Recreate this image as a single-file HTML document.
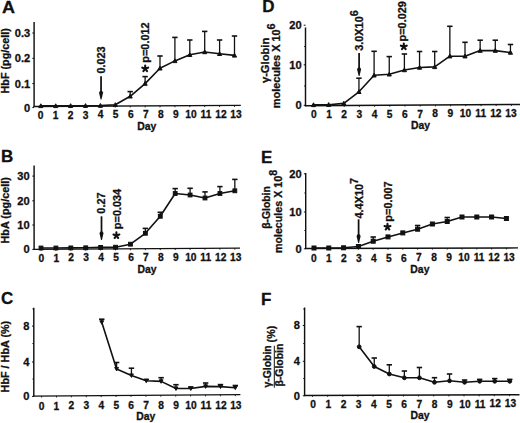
<!DOCTYPE html>
<html><head><meta charset="utf-8"><style>html,body{margin:0;padding:0;background:#fff;}svg{display:block;}text{font-family:"Liberation Sans", sans-serif;}</style></head><body>
<svg width="520" height="423" viewBox="0 0 520 423" font-family='"Liberation Sans", sans-serif' fill="#111" stroke="#111">
<rect width="520" height="423" fill="#fff" stroke="none"/>
<g stroke="none">
</g>
<g>
<line x1="34.10" y1="22.00" x2="34.10" y2="107.00" stroke-width="1.45"/>
<line x1="33.50" y1="106.50" x2="240.80" y2="105.40" stroke-width="1.45"/>
<line x1="32.30" y1="33.00" x2="34.10" y2="33.00" stroke-width="1.0"/>
<line x1="32.30" y1="58.30" x2="34.10" y2="58.30" stroke-width="1.0"/>
<line x1="32.30" y1="83.60" x2="34.10" y2="83.60" stroke-width="1.0"/>
<line x1="32.30" y1="107.60" x2="34.10" y2="107.60" stroke-width="1.0"/>
<line x1="40.80" y1="106.46" x2="40.80" y2="107.96" stroke-width="0.9"/>
<line x1="55.70" y1="106.39" x2="55.70" y2="107.89" stroke-width="0.9"/>
<line x1="70.60" y1="106.31" x2="70.60" y2="107.81" stroke-width="0.9"/>
<line x1="85.50" y1="106.23" x2="85.50" y2="107.73" stroke-width="0.9"/>
<line x1="100.40" y1="106.15" x2="100.40" y2="107.65" stroke-width="0.9"/>
<line x1="115.30" y1="106.07" x2="115.30" y2="107.57" stroke-width="0.9"/>
<line x1="130.20" y1="105.99" x2="130.20" y2="107.49" stroke-width="0.9"/>
<line x1="145.10" y1="105.91" x2="145.10" y2="107.41" stroke-width="0.9"/>
<line x1="160.00" y1="105.83" x2="160.00" y2="107.33" stroke-width="0.9"/>
<line x1="174.90" y1="105.75" x2="174.90" y2="107.25" stroke-width="0.9"/>
<line x1="189.80" y1="105.67" x2="189.80" y2="107.17" stroke-width="0.9"/>
<line x1="204.70" y1="105.59" x2="204.70" y2="107.09" stroke-width="0.9"/>
<line x1="219.60" y1="105.51" x2="219.60" y2="107.01" stroke-width="0.9"/>
<line x1="234.50" y1="105.43" x2="234.50" y2="106.93" stroke-width="0.9"/>
<text transform="translate(30.20 36.93)" font-size="11.1" text-anchor="end" font-weight="bold" stroke="#111" stroke-width="0.3">0.3</text>
<text transform="translate(30.20 62.23)" font-size="11.1" text-anchor="end" font-weight="bold" stroke="#111" stroke-width="0.3">0.2</text>
<text transform="translate(30.20 87.53)" font-size="11.1" text-anchor="end" font-weight="bold" stroke="#111" stroke-width="0.3">0.1</text>
<text transform="translate(30.20 111.53)" font-size="11.1" text-anchor="end" font-weight="bold" stroke="#111" stroke-width="0.3">0</text>
<text transform="translate(40.50 118.81)" font-size="10.2" text-anchor="middle" font-weight="bold" stroke="#111" stroke-width="0.3">0</text>
<text transform="translate(55.54 118.71)" font-size="10.2" text-anchor="middle" font-weight="bold" stroke="#111" stroke-width="0.3">1</text>
<text transform="translate(70.58 118.61)" font-size="10.2" text-anchor="middle" font-weight="bold" stroke="#111" stroke-width="0.3">2</text>
<text transform="translate(85.62 118.51)" font-size="10.2" text-anchor="middle" font-weight="bold" stroke="#111" stroke-width="0.3">3</text>
<text transform="translate(100.66 118.41)" font-size="10.2" text-anchor="middle" font-weight="bold" stroke="#111" stroke-width="0.3">4</text>
<text transform="translate(115.70 118.31)" font-size="10.2" text-anchor="middle" font-weight="bold" stroke="#111" stroke-width="0.3">5</text>
<text transform="translate(130.74 118.21)" font-size="10.2" text-anchor="middle" font-weight="bold" stroke="#111" stroke-width="0.3">6</text>
<text transform="translate(145.78 118.11)" font-size="10.2" text-anchor="middle" font-weight="bold" stroke="#111" stroke-width="0.3">7</text>
<text transform="translate(160.82 118.01)" font-size="10.2" text-anchor="middle" font-weight="bold" stroke="#111" stroke-width="0.3">8</text>
<text transform="translate(175.86 117.91)" font-size="10.2" text-anchor="middle" font-weight="bold" stroke="#111" stroke-width="0.3">9</text>
<text transform="translate(190.90 117.81)" font-size="10.2" text-anchor="middle" font-weight="bold" stroke="#111" stroke-width="0.3">10</text>
<text transform="translate(205.94 117.71)" font-size="10.2" text-anchor="middle" font-weight="bold" stroke="#111" stroke-width="0.3">11</text>
<text transform="translate(220.98 117.61)" font-size="10.2" text-anchor="middle" font-weight="bold" stroke="#111" stroke-width="0.3">12</text>
<text transform="translate(236.02 117.51)" font-size="10.2" text-anchor="middle" font-weight="bold" stroke="#111" stroke-width="0.3">13</text>
<text transform="translate(146.80 129.60)" font-size="10.4" text-anchor="middle" font-weight="bold" stroke="#111" stroke-width="0.3">Day</text>
<text transform="translate(2.00 12.70) scale(1.06 1.0)" font-size="17" text-anchor="start" font-weight="bold" stroke="#111" stroke-width="0.3">A</text>
<line x1="130.20" y1="96.30" x2="130.20" y2="91.60" stroke-width="1.3"/>
<line x1="127.50" y1="91.60" x2="132.90" y2="91.60" stroke-width="1.6"/>
<line x1="145.10" y1="83.60" x2="145.10" y2="76.60" stroke-width="1.3"/>
<line x1="142.40" y1="76.60" x2="147.80" y2="76.60" stroke-width="1.6"/>
<line x1="160.00" y1="68.30" x2="160.00" y2="56.00" stroke-width="1.3"/>
<line x1="157.30" y1="56.00" x2="162.70" y2="56.00" stroke-width="1.6"/>
<line x1="174.90" y1="60.90" x2="174.90" y2="37.40" stroke-width="1.3"/>
<line x1="172.20" y1="37.40" x2="177.60" y2="37.40" stroke-width="1.6"/>
<line x1="189.80" y1="54.80" x2="189.80" y2="40.00" stroke-width="1.3"/>
<line x1="187.10" y1="40.00" x2="192.50" y2="40.00" stroke-width="1.6"/>
<line x1="204.70" y1="52.00" x2="204.70" y2="31.40" stroke-width="1.3"/>
<line x1="202.00" y1="31.40" x2="207.40" y2="31.40" stroke-width="1.6"/>
<line x1="219.60" y1="53.80" x2="219.60" y2="40.00" stroke-width="1.3"/>
<line x1="216.90" y1="40.00" x2="222.30" y2="40.00" stroke-width="1.6"/>
<line x1="234.50" y1="55.40" x2="234.50" y2="36.00" stroke-width="1.3"/>
<line x1="231.80" y1="36.00" x2="237.20" y2="36.00" stroke-width="1.6"/>
<path d="M40.80 105.90 L55.70 105.90 L70.60 105.80 L85.50 105.70 L100.40 105.60 L115.30 104.80 L130.20 96.30 L145.10 83.60 L160.00 68.30 L174.90 60.90 L189.80 54.80 L204.70 52.00 L219.60 53.80 L234.50 55.40" fill="none" stroke-width="1.6" stroke-linejoin="round"/>
<path d="M38.71 107.61L42.89 107.61L40.80 103.81Z"/>
<path d="M53.61 107.61L57.79 107.61L55.70 103.81Z"/>
<path d="M68.51 107.51L72.69 107.51L70.60 103.71Z"/>
<path d="M83.41 107.41L87.59 107.41L85.50 103.61Z"/>
<path d="M98.31 107.31L102.49 107.31L100.40 103.51Z"/>
<path d="M113.21 106.51L117.39 106.51L115.30 102.71Z"/>
<path d="M128.11 98.01L132.29 98.01L130.20 94.21Z"/>
<path d="M143.01 85.31L147.19 85.31L145.10 81.51Z"/>
<path d="M157.91 70.01L162.09 70.01L160.00 66.21Z"/>
<path d="M172.81 62.61L176.99 62.61L174.90 58.81Z"/>
<path d="M187.71 56.51L191.89 56.51L189.80 52.71Z"/>
<path d="M202.61 53.71L206.79 53.71L204.70 49.91Z"/>
<path d="M217.51 55.51L221.69 55.51L219.60 51.71Z"/>
<path d="M232.41 57.11L236.59 57.11L234.50 53.31Z"/>
</g>
<g>
<line x1="34.10" y1="165.40" x2="34.10" y2="249.90" stroke-width="1.45"/>
<line x1="33.50" y1="249.40" x2="240.00" y2="248.10" stroke-width="1.45"/>
<line x1="32.30" y1="176.10" x2="34.10" y2="176.10" stroke-width="1.0"/>
<line x1="32.30" y1="200.80" x2="34.10" y2="200.80" stroke-width="1.0"/>
<line x1="32.30" y1="225.00" x2="34.10" y2="225.00" stroke-width="1.0"/>
<line x1="32.30" y1="249.40" x2="34.10" y2="249.40" stroke-width="1.0"/>
<line x1="41.00" y1="249.36" x2="41.00" y2="250.86" stroke-width="0.9"/>
<line x1="55.91" y1="249.26" x2="55.91" y2="250.76" stroke-width="0.9"/>
<line x1="70.82" y1="249.17" x2="70.82" y2="250.67" stroke-width="0.9"/>
<line x1="85.73" y1="249.07" x2="85.73" y2="250.57" stroke-width="0.9"/>
<line x1="100.64" y1="248.98" x2="100.64" y2="250.48" stroke-width="0.9"/>
<line x1="115.55" y1="248.89" x2="115.55" y2="250.39" stroke-width="0.9"/>
<line x1="130.46" y1="248.79" x2="130.46" y2="250.29" stroke-width="0.9"/>
<line x1="145.37" y1="248.70" x2="145.37" y2="250.20" stroke-width="0.9"/>
<line x1="160.28" y1="248.60" x2="160.28" y2="250.10" stroke-width="0.9"/>
<line x1="175.19" y1="248.51" x2="175.19" y2="250.01" stroke-width="0.9"/>
<line x1="190.10" y1="248.42" x2="190.10" y2="249.92" stroke-width="0.9"/>
<line x1="205.01" y1="248.32" x2="205.01" y2="249.82" stroke-width="0.9"/>
<line x1="219.92" y1="248.23" x2="219.92" y2="249.73" stroke-width="0.9"/>
<line x1="234.83" y1="248.13" x2="234.83" y2="249.63" stroke-width="0.9"/>
<text transform="translate(29.70 180.03)" font-size="11.1" text-anchor="end" font-weight="bold" stroke="#111" stroke-width="0.3">30</text>
<text transform="translate(29.70 204.73)" font-size="11.1" text-anchor="end" font-weight="bold" stroke="#111" stroke-width="0.3">20</text>
<text transform="translate(29.70 228.93)" font-size="11.1" text-anchor="end" font-weight="bold" stroke="#111" stroke-width="0.3">10</text>
<text transform="translate(29.70 253.33)" font-size="11.1" text-anchor="end" font-weight="bold" stroke="#111" stroke-width="0.3">0</text>
<text transform="translate(41.30 261.61)" font-size="10.2" text-anchor="middle" font-weight="bold" stroke="#111" stroke-width="0.3">0</text>
<text transform="translate(56.25 261.53)" font-size="10.2" text-anchor="middle" font-weight="bold" stroke="#111" stroke-width="0.3">1</text>
<text transform="translate(71.20 261.46)" font-size="10.2" text-anchor="middle" font-weight="bold" stroke="#111" stroke-width="0.3">2</text>
<text transform="translate(86.15 261.38)" font-size="10.2" text-anchor="middle" font-weight="bold" stroke="#111" stroke-width="0.3">3</text>
<text transform="translate(101.10 261.30)" font-size="10.2" text-anchor="middle" font-weight="bold" stroke="#111" stroke-width="0.3">4</text>
<text transform="translate(116.05 261.23)" font-size="10.2" text-anchor="middle" font-weight="bold" stroke="#111" stroke-width="0.3">5</text>
<text transform="translate(131.00 261.15)" font-size="10.2" text-anchor="middle" font-weight="bold" stroke="#111" stroke-width="0.3">6</text>
<text transform="translate(145.95 261.07)" font-size="10.2" text-anchor="middle" font-weight="bold" stroke="#111" stroke-width="0.3">7</text>
<text transform="translate(160.90 261.00)" font-size="10.2" text-anchor="middle" font-weight="bold" stroke="#111" stroke-width="0.3">8</text>
<text transform="translate(175.85 260.92)" font-size="10.2" text-anchor="middle" font-weight="bold" stroke="#111" stroke-width="0.3">9</text>
<text transform="translate(190.80 260.84)" font-size="10.2" text-anchor="middle" font-weight="bold" stroke="#111" stroke-width="0.3">10</text>
<text transform="translate(205.75 260.76)" font-size="10.2" text-anchor="middle" font-weight="bold" stroke="#111" stroke-width="0.3">11</text>
<text transform="translate(220.70 260.69)" font-size="10.2" text-anchor="middle" font-weight="bold" stroke="#111" stroke-width="0.3">12</text>
<text transform="translate(235.65 260.61)" font-size="10.2" text-anchor="middle" font-weight="bold" stroke="#111" stroke-width="0.3">13</text>
<text transform="translate(147.00 272.50)" font-size="10.4" text-anchor="middle" font-weight="bold" stroke="#111" stroke-width="0.3">Day</text>
<text transform="translate(1.00 161.50)" font-size="17" text-anchor="start" font-weight="bold" stroke="#111" stroke-width="0.3">B</text>
<line x1="145.37" y1="233.30" x2="145.37" y2="228.40" stroke-width="1.3"/>
<line x1="142.67" y1="228.40" x2="148.07" y2="228.40" stroke-width="1.6"/>
<line x1="160.28" y1="216.30" x2="160.28" y2="212.30" stroke-width="1.3"/>
<line x1="157.58" y1="212.30" x2="162.98" y2="212.30" stroke-width="1.6"/>
<line x1="175.19" y1="193.50" x2="175.19" y2="188.60" stroke-width="1.3"/>
<line x1="172.49" y1="188.60" x2="177.89" y2="188.60" stroke-width="1.6"/>
<line x1="190.10" y1="195.00" x2="190.10" y2="188.30" stroke-width="1.3"/>
<line x1="187.40" y1="188.30" x2="192.80" y2="188.30" stroke-width="1.6"/>
<line x1="205.01" y1="198.00" x2="205.01" y2="191.90" stroke-width="1.3"/>
<line x1="202.31" y1="191.90" x2="207.71" y2="191.90" stroke-width="1.6"/>
<line x1="219.92" y1="193.50" x2="219.92" y2="186.60" stroke-width="1.3"/>
<line x1="217.22" y1="186.60" x2="222.62" y2="186.60" stroke-width="1.6"/>
<line x1="234.83" y1="190.80" x2="234.83" y2="179.40" stroke-width="1.3"/>
<line x1="232.13" y1="179.40" x2="237.53" y2="179.40" stroke-width="1.6"/>
<path d="M41.00 248.00 L55.91 248.00 L70.82 247.90 L85.73 247.80 L100.64 247.40 L115.55 247.20 L130.46 244.20 L145.37 233.30 L160.28 216.30 L175.19 193.50 L190.10 195.00 L205.01 198.00 L219.92 193.50 L234.83 190.80" fill="none" stroke-width="1.6" stroke-linejoin="round"/>
<rect x="39.10" y="246.10" width="3.80" height="3.80"/>
<rect x="54.01" y="246.10" width="3.80" height="3.80"/>
<rect x="68.92" y="246.00" width="3.80" height="3.80"/>
<rect x="83.83" y="245.90" width="3.80" height="3.80"/>
<rect x="98.74" y="245.50" width="3.80" height="3.80"/>
<rect x="113.65" y="245.30" width="3.80" height="3.80"/>
<rect x="128.56" y="242.30" width="3.80" height="3.80"/>
<rect x="143.47" y="231.40" width="3.80" height="3.80"/>
<rect x="158.38" y="214.40" width="3.80" height="3.80"/>
<rect x="173.29" y="191.60" width="3.80" height="3.80"/>
<rect x="188.20" y="193.10" width="3.80" height="3.80"/>
<rect x="203.11" y="196.10" width="3.80" height="3.80"/>
<rect x="218.02" y="191.60" width="3.80" height="3.80"/>
<rect x="232.93" y="188.90" width="3.80" height="3.80"/>
</g>
<g>
<line x1="33.80" y1="307.70" x2="33.80" y2="396.60" stroke-width="1.45"/>
<line x1="33.20" y1="396.10" x2="240.40" y2="394.60" stroke-width="1.45"/>
<line x1="32.00" y1="326.10" x2="33.80" y2="326.10" stroke-width="1.0"/>
<line x1="32.00" y1="362.00" x2="33.80" y2="362.00" stroke-width="1.0"/>
<line x1="32.00" y1="396.40" x2="33.80" y2="396.40" stroke-width="1.0"/>
<line x1="32.40" y1="343.50" x2="33.80" y2="343.50" stroke-width="0.9"/>
<line x1="32.40" y1="379.00" x2="33.80" y2="379.00" stroke-width="0.9"/>
<line x1="32.40" y1="309.00" x2="33.80" y2="309.00" stroke-width="0.9"/>
<line x1="41.60" y1="396.04" x2="41.60" y2="397.54" stroke-width="0.9"/>
<line x1="56.50" y1="395.94" x2="56.50" y2="397.44" stroke-width="0.9"/>
<line x1="71.40" y1="395.83" x2="71.40" y2="397.33" stroke-width="0.9"/>
<line x1="86.30" y1="395.72" x2="86.30" y2="397.22" stroke-width="0.9"/>
<line x1="101.20" y1="395.61" x2="101.20" y2="397.11" stroke-width="0.9"/>
<line x1="116.10" y1="395.50" x2="116.10" y2="397.00" stroke-width="0.9"/>
<line x1="131.00" y1="395.39" x2="131.00" y2="396.89" stroke-width="0.9"/>
<line x1="145.90" y1="395.29" x2="145.90" y2="396.79" stroke-width="0.9"/>
<line x1="160.80" y1="395.18" x2="160.80" y2="396.68" stroke-width="0.9"/>
<line x1="175.70" y1="395.07" x2="175.70" y2="396.57" stroke-width="0.9"/>
<line x1="190.60" y1="394.96" x2="190.60" y2="396.46" stroke-width="0.9"/>
<line x1="205.50" y1="394.85" x2="205.50" y2="396.35" stroke-width="0.9"/>
<line x1="220.40" y1="394.75" x2="220.40" y2="396.25" stroke-width="0.9"/>
<line x1="235.30" y1="394.64" x2="235.30" y2="396.14" stroke-width="0.9"/>
<text transform="translate(29.30 330.03)" font-size="11.1" text-anchor="end" font-weight="bold" stroke="#111" stroke-width="0.3">8</text>
<text transform="translate(29.30 365.93)" font-size="11.1" text-anchor="end" font-weight="bold" stroke="#111" stroke-width="0.3">4</text>
<text transform="translate(29.30 400.33)" font-size="11.1" text-anchor="end" font-weight="bold" stroke="#111" stroke-width="0.3">0</text>
<text transform="translate(41.50 409.61)" font-size="10.2" text-anchor="middle" font-weight="bold" stroke="#111" stroke-width="0.3">0</text>
<text transform="translate(56.45 409.53)" font-size="10.2" text-anchor="middle" font-weight="bold" stroke="#111" stroke-width="0.3">1</text>
<text transform="translate(71.40 409.46)" font-size="10.2" text-anchor="middle" font-weight="bold" stroke="#111" stroke-width="0.3">2</text>
<text transform="translate(86.35 409.38)" font-size="10.2" text-anchor="middle" font-weight="bold" stroke="#111" stroke-width="0.3">3</text>
<text transform="translate(101.30 409.30)" font-size="10.2" text-anchor="middle" font-weight="bold" stroke="#111" stroke-width="0.3">4</text>
<text transform="translate(116.25 409.23)" font-size="10.2" text-anchor="middle" font-weight="bold" stroke="#111" stroke-width="0.3">5</text>
<text transform="translate(131.20 409.15)" font-size="10.2" text-anchor="middle" font-weight="bold" stroke="#111" stroke-width="0.3">6</text>
<text transform="translate(146.15 409.07)" font-size="10.2" text-anchor="middle" font-weight="bold" stroke="#111" stroke-width="0.3">7</text>
<text transform="translate(161.10 409.00)" font-size="10.2" text-anchor="middle" font-weight="bold" stroke="#111" stroke-width="0.3">8</text>
<text transform="translate(176.05 408.92)" font-size="10.2" text-anchor="middle" font-weight="bold" stroke="#111" stroke-width="0.3">9</text>
<text transform="translate(191.00 408.84)" font-size="10.2" text-anchor="middle" font-weight="bold" stroke="#111" stroke-width="0.3">10</text>
<text transform="translate(205.95 408.76)" font-size="10.2" text-anchor="middle" font-weight="bold" stroke="#111" stroke-width="0.3">11</text>
<text transform="translate(220.90 408.69)" font-size="10.2" text-anchor="middle" font-weight="bold" stroke="#111" stroke-width="0.3">12</text>
<text transform="translate(235.85 408.61)" font-size="10.2" text-anchor="middle" font-weight="bold" stroke="#111" stroke-width="0.3">13</text>
<text transform="translate(145.80 419.50)" font-size="10.4" text-anchor="middle" font-weight="bold" stroke="#111" stroke-width="0.3">Day</text>
<text transform="translate(1.00 304.30)" font-size="17" text-anchor="start" font-weight="bold" stroke="#111" stroke-width="0.3">C</text>
<line x1="101.76" y1="322.30" x2="101.76" y2="319.20" stroke-width="1.3"/>
<line x1="99.06" y1="319.20" x2="104.46" y2="319.20" stroke-width="1.6"/>
<line x1="116.60" y1="369.00" x2="116.60" y2="362.50" stroke-width="1.3"/>
<line x1="113.90" y1="362.50" x2="119.30" y2="362.50" stroke-width="1.6"/>
<line x1="131.44" y1="375.50" x2="131.44" y2="368.20" stroke-width="1.3"/>
<line x1="128.74" y1="368.20" x2="134.14" y2="368.20" stroke-width="1.6"/>
<line x1="146.28" y1="380.80" x2="146.28" y2="379.50" stroke-width="1.3"/>
<line x1="143.58" y1="379.50" x2="148.98" y2="379.50" stroke-width="1.6"/>
<line x1="161.12" y1="381.40" x2="161.12" y2="377.70" stroke-width="1.3"/>
<line x1="158.42" y1="377.70" x2="163.82" y2="377.70" stroke-width="1.6"/>
<line x1="175.96" y1="388.50" x2="175.96" y2="384.70" stroke-width="1.3"/>
<line x1="173.26" y1="384.70" x2="178.66" y2="384.70" stroke-width="1.6"/>
<line x1="190.80" y1="388.50" x2="190.80" y2="387.00" stroke-width="1.3"/>
<line x1="188.10" y1="387.00" x2="193.50" y2="387.00" stroke-width="1.6"/>
<line x1="205.64" y1="386.40" x2="205.64" y2="383.00" stroke-width="1.3"/>
<line x1="202.94" y1="383.00" x2="208.34" y2="383.00" stroke-width="1.6"/>
<line x1="220.48" y1="386.60" x2="220.48" y2="384.60" stroke-width="1.3"/>
<line x1="217.78" y1="384.60" x2="223.18" y2="384.60" stroke-width="1.6"/>
<line x1="235.32" y1="387.70" x2="235.32" y2="385.50" stroke-width="1.3"/>
<line x1="232.62" y1="385.50" x2="238.02" y2="385.50" stroke-width="1.6"/>
<path d="M101.76 322.30 L116.60 369.00 L131.44 375.50 L146.28 380.80 L161.12 381.40 L175.96 388.50 L190.80 388.50 L205.64 386.40 L220.48 386.60 L235.32 387.70" fill="none" stroke-width="1.6" stroke-linejoin="round"/>
<path d="M99.83 320.73L103.68 320.73L101.76 324.23Z"/>
<path d="M114.67 367.43L118.52 367.43L116.60 370.93Z"/>
<path d="M129.51 373.93L133.37 373.93L131.44 377.43Z"/>
<path d="M144.35 379.23L148.21 379.23L146.28 382.73Z"/>
<path d="M159.19 379.82L163.05 379.82L161.12 383.32Z"/>
<path d="M174.03 386.93L177.89 386.93L175.96 390.43Z"/>
<path d="M188.88 386.93L192.73 386.93L190.80 390.43Z"/>
<path d="M203.72 384.82L207.57 384.82L205.64 388.32Z"/>
<path d="M218.55 385.03L222.41 385.03L220.48 388.53Z"/>
<path d="M233.39 386.12L237.25 386.12L235.32 389.62Z"/>
</g>
<g>
<line x1="305.50" y1="27.50" x2="305.50" y2="106.20" stroke-width="1.45"/>
<line x1="304.90" y1="105.70" x2="520.00" y2="104.40" stroke-width="1.45"/>
<line x1="303.70" y1="25.20" x2="305.50" y2="25.20" stroke-width="1.0"/>
<line x1="303.70" y1="64.80" x2="305.50" y2="64.80" stroke-width="1.0"/>
<line x1="303.70" y1="105.30" x2="305.50" y2="105.30" stroke-width="1.0"/>
<line x1="304.10" y1="46.50" x2="305.50" y2="46.50" stroke-width="0.9"/>
<line x1="304.10" y1="86.00" x2="305.50" y2="86.00" stroke-width="0.9"/>
<line x1="313.80" y1="105.65" x2="313.80" y2="107.15" stroke-width="0.9"/>
<line x1="329.00" y1="105.56" x2="329.00" y2="107.06" stroke-width="0.9"/>
<line x1="344.20" y1="105.47" x2="344.20" y2="106.97" stroke-width="0.9"/>
<line x1="359.40" y1="105.37" x2="359.40" y2="106.87" stroke-width="0.9"/>
<line x1="374.60" y1="105.28" x2="374.60" y2="106.78" stroke-width="0.9"/>
<line x1="389.80" y1="105.19" x2="389.80" y2="106.69" stroke-width="0.9"/>
<line x1="405.00" y1="105.10" x2="405.00" y2="106.60" stroke-width="0.9"/>
<line x1="420.20" y1="105.00" x2="420.20" y2="106.50" stroke-width="0.9"/>
<line x1="435.40" y1="104.91" x2="435.40" y2="106.41" stroke-width="0.9"/>
<line x1="450.60" y1="104.82" x2="450.60" y2="106.32" stroke-width="0.9"/>
<line x1="465.80" y1="104.73" x2="465.80" y2="106.23" stroke-width="0.9"/>
<line x1="481.00" y1="104.64" x2="481.00" y2="106.14" stroke-width="0.9"/>
<line x1="496.20" y1="104.54" x2="496.20" y2="106.04" stroke-width="0.9"/>
<line x1="511.40" y1="104.45" x2="511.40" y2="105.95" stroke-width="0.9"/>
<text transform="translate(301.70 29.13)" font-size="11.1" text-anchor="end" font-weight="bold" stroke="#111" stroke-width="0.3">20</text>
<text transform="translate(301.70 68.73)" font-size="11.1" text-anchor="end" font-weight="bold" stroke="#111" stroke-width="0.3">10</text>
<text transform="translate(301.70 109.23)" font-size="11.1" text-anchor="end" font-weight="bold" stroke="#111" stroke-width="0.3">0</text>
<text transform="translate(313.80 118.21)" font-size="10.2" text-anchor="middle" font-weight="bold" stroke="#111" stroke-width="0.3">0</text>
<text transform="translate(328.97 118.11)" font-size="10.2" text-anchor="middle" font-weight="bold" stroke="#111" stroke-width="0.3">1</text>
<text transform="translate(344.14 118.01)" font-size="10.2" text-anchor="middle" font-weight="bold" stroke="#111" stroke-width="0.3">2</text>
<text transform="translate(359.31 117.91)" font-size="10.2" text-anchor="middle" font-weight="bold" stroke="#111" stroke-width="0.3">3</text>
<text transform="translate(374.48 117.81)" font-size="10.2" text-anchor="middle" font-weight="bold" stroke="#111" stroke-width="0.3">4</text>
<text transform="translate(389.65 117.71)" font-size="10.2" text-anchor="middle" font-weight="bold" stroke="#111" stroke-width="0.3">5</text>
<text transform="translate(404.82 117.61)" font-size="10.2" text-anchor="middle" font-weight="bold" stroke="#111" stroke-width="0.3">6</text>
<text transform="translate(419.99 117.51)" font-size="10.2" text-anchor="middle" font-weight="bold" stroke="#111" stroke-width="0.3">7</text>
<text transform="translate(435.16 117.41)" font-size="10.2" text-anchor="middle" font-weight="bold" stroke="#111" stroke-width="0.3">8</text>
<text transform="translate(450.33 117.31)" font-size="10.2" text-anchor="middle" font-weight="bold" stroke="#111" stroke-width="0.3">9</text>
<text transform="translate(465.50 117.21)" font-size="10.2" text-anchor="middle" font-weight="bold" stroke="#111" stroke-width="0.3">10</text>
<text transform="translate(480.67 117.11)" font-size="10.2" text-anchor="middle" font-weight="bold" stroke="#111" stroke-width="0.3">11</text>
<text transform="translate(495.84 117.01)" font-size="10.2" text-anchor="middle" font-weight="bold" stroke="#111" stroke-width="0.3">12</text>
<text transform="translate(511.01 116.91)" font-size="10.2" text-anchor="middle" font-weight="bold" stroke="#111" stroke-width="0.3">13</text>
<text transform="translate(420.60 128.80)" font-size="10.4" text-anchor="middle" font-weight="bold" stroke="#111" stroke-width="0.3">Day</text>
<text transform="translate(262.30 12.00)" font-size="17" text-anchor="start" font-weight="bold" stroke="#111" stroke-width="0.3">D</text>
<line x1="358.95" y1="91.80" x2="358.95" y2="78.20" stroke-width="1.3"/>
<line x1="356.25" y1="78.20" x2="361.65" y2="78.20" stroke-width="1.6"/>
<line x1="374.10" y1="75.30" x2="374.10" y2="51.30" stroke-width="1.3"/>
<line x1="371.40" y1="51.30" x2="376.80" y2="51.30" stroke-width="1.6"/>
<line x1="389.25" y1="74.30" x2="389.25" y2="56.60" stroke-width="1.3"/>
<line x1="386.55" y1="56.60" x2="391.95" y2="56.60" stroke-width="1.6"/>
<line x1="404.40" y1="70.00" x2="404.40" y2="54.00" stroke-width="1.3"/>
<line x1="401.70" y1="54.00" x2="407.10" y2="54.00" stroke-width="1.6"/>
<line x1="419.55" y1="67.50" x2="419.55" y2="51.50" stroke-width="1.3"/>
<line x1="416.85" y1="51.50" x2="422.25" y2="51.50" stroke-width="1.6"/>
<line x1="434.70" y1="66.90" x2="434.70" y2="51.50" stroke-width="1.3"/>
<line x1="432.00" y1="51.50" x2="437.40" y2="51.50" stroke-width="1.6"/>
<line x1="449.85" y1="56.20" x2="449.85" y2="26.30" stroke-width="1.3"/>
<line x1="447.15" y1="26.30" x2="452.55" y2="26.30" stroke-width="1.6"/>
<line x1="465.00" y1="56.20" x2="465.00" y2="42.30" stroke-width="1.3"/>
<line x1="462.30" y1="42.30" x2="467.70" y2="42.30" stroke-width="1.6"/>
<line x1="480.15" y1="50.60" x2="480.15" y2="40.20" stroke-width="1.3"/>
<line x1="477.45" y1="40.20" x2="482.85" y2="40.20" stroke-width="1.6"/>
<line x1="495.30" y1="50.60" x2="495.30" y2="40.20" stroke-width="1.3"/>
<line x1="492.60" y1="40.20" x2="498.00" y2="40.20" stroke-width="1.6"/>
<line x1="510.45" y1="52.50" x2="510.45" y2="44.50" stroke-width="1.3"/>
<line x1="507.75" y1="44.50" x2="513.15" y2="44.50" stroke-width="1.6"/>
<path d="M313.50 104.90 L328.65 104.70 L343.80 103.40 L358.95 91.80 L374.10 75.30 L389.25 74.30 L404.40 70.00 L419.55 67.50 L434.70 66.90 L449.85 56.20 L465.00 56.20 L480.15 50.60 L495.30 50.60 L510.45 52.50" fill="none" stroke-width="1.6" stroke-linejoin="round"/>
<path d="M311.41 106.61L315.59 106.61L313.50 102.81Z"/>
<path d="M326.56 106.41L330.74 106.41L328.65 102.61Z"/>
<path d="M341.71 105.11L345.89 105.11L343.80 101.31Z"/>
<path d="M356.86 93.51L361.04 93.51L358.95 89.71Z"/>
<path d="M372.01 77.01L376.19 77.01L374.10 73.21Z"/>
<path d="M387.16 76.01L391.34 76.01L389.25 72.21Z"/>
<path d="M402.31 71.71L406.49 71.71L404.40 67.91Z"/>
<path d="M417.46 69.21L421.64 69.21L419.55 65.41Z"/>
<path d="M432.61 68.61L436.79 68.61L434.70 64.81Z"/>
<path d="M447.76 57.91L451.94 57.91L449.85 54.11Z"/>
<path d="M462.91 57.91L467.09 57.91L465.00 54.11Z"/>
<path d="M478.06 52.31L482.24 52.31L480.15 48.51Z"/>
<path d="M493.21 52.31L497.39 52.31L495.30 48.51Z"/>
<path d="M508.36 54.21L512.54 54.21L510.45 50.41Z"/>
</g>
<g>
<line x1="305.70" y1="173.00" x2="305.70" y2="249.00" stroke-width="1.45"/>
<line x1="305.10" y1="248.50" x2="518.00" y2="247.90" stroke-width="1.45"/>
<line x1="303.90" y1="173.80" x2="305.70" y2="173.80" stroke-width="1.0"/>
<line x1="303.90" y1="212.00" x2="305.70" y2="212.00" stroke-width="1.0"/>
<line x1="303.90" y1="248.80" x2="305.70" y2="248.80" stroke-width="1.0"/>
<line x1="304.30" y1="193.00" x2="305.70" y2="193.00" stroke-width="0.9"/>
<line x1="304.30" y1="230.50" x2="305.70" y2="230.50" stroke-width="0.9"/>
<line x1="314.00" y1="248.48" x2="314.00" y2="249.98" stroke-width="0.9"/>
<line x1="328.80" y1="248.43" x2="328.80" y2="249.93" stroke-width="0.9"/>
<line x1="343.60" y1="248.39" x2="343.60" y2="249.89" stroke-width="0.9"/>
<line x1="358.40" y1="248.35" x2="358.40" y2="249.85" stroke-width="0.9"/>
<line x1="373.20" y1="248.31" x2="373.20" y2="249.81" stroke-width="0.9"/>
<line x1="388.00" y1="248.27" x2="388.00" y2="249.77" stroke-width="0.9"/>
<line x1="402.80" y1="248.23" x2="402.80" y2="249.73" stroke-width="0.9"/>
<line x1="417.60" y1="248.18" x2="417.60" y2="249.68" stroke-width="0.9"/>
<line x1="432.40" y1="248.14" x2="432.40" y2="249.64" stroke-width="0.9"/>
<line x1="447.20" y1="248.10" x2="447.20" y2="249.60" stroke-width="0.9"/>
<line x1="462.00" y1="248.06" x2="462.00" y2="249.56" stroke-width="0.9"/>
<line x1="476.80" y1="248.02" x2="476.80" y2="249.52" stroke-width="0.9"/>
<line x1="491.60" y1="247.97" x2="491.60" y2="249.47" stroke-width="0.9"/>
<line x1="506.40" y1="247.93" x2="506.40" y2="249.43" stroke-width="0.9"/>
<text transform="translate(301.70 177.73)" font-size="11.1" text-anchor="end" font-weight="bold" stroke="#111" stroke-width="0.3">20</text>
<text transform="translate(301.70 215.93)" font-size="11.1" text-anchor="end" font-weight="bold" stroke="#111" stroke-width="0.3">10</text>
<text transform="translate(301.70 252.73)" font-size="11.1" text-anchor="end" font-weight="bold" stroke="#111" stroke-width="0.3">0</text>
<text transform="translate(313.80 262.21)" font-size="10.2" text-anchor="middle" font-weight="bold" stroke="#111" stroke-width="0.3">0</text>
<text transform="translate(328.82 262.10)" font-size="10.2" text-anchor="middle" font-weight="bold" stroke="#111" stroke-width="0.3">1</text>
<text transform="translate(343.84 261.98)" font-size="10.2" text-anchor="middle" font-weight="bold" stroke="#111" stroke-width="0.3">2</text>
<text transform="translate(358.86 261.86)" font-size="10.2" text-anchor="middle" font-weight="bold" stroke="#111" stroke-width="0.3">3</text>
<text transform="translate(373.88 261.75)" font-size="10.2" text-anchor="middle" font-weight="bold" stroke="#111" stroke-width="0.3">4</text>
<text transform="translate(388.90 261.63)" font-size="10.2" text-anchor="middle" font-weight="bold" stroke="#111" stroke-width="0.3">5</text>
<text transform="translate(403.92 261.52)" font-size="10.2" text-anchor="middle" font-weight="bold" stroke="#111" stroke-width="0.3">6</text>
<text transform="translate(418.94 261.40)" font-size="10.2" text-anchor="middle" font-weight="bold" stroke="#111" stroke-width="0.3">7</text>
<text transform="translate(433.96 261.29)" font-size="10.2" text-anchor="middle" font-weight="bold" stroke="#111" stroke-width="0.3">8</text>
<text transform="translate(448.98 261.17)" font-size="10.2" text-anchor="middle" font-weight="bold" stroke="#111" stroke-width="0.3">9</text>
<text transform="translate(464.00 261.06)" font-size="10.2" text-anchor="middle" font-weight="bold" stroke="#111" stroke-width="0.3">10</text>
<text transform="translate(479.02 260.94)" font-size="10.2" text-anchor="middle" font-weight="bold" stroke="#111" stroke-width="0.3">11</text>
<text transform="translate(494.04 260.83)" font-size="10.2" text-anchor="middle" font-weight="bold" stroke="#111" stroke-width="0.3">12</text>
<text transform="translate(509.06 260.71)" font-size="10.2" text-anchor="middle" font-weight="bold" stroke="#111" stroke-width="0.3">13</text>
<text transform="translate(419.90 272.60)" font-size="10.4" text-anchor="middle" font-weight="bold" stroke="#111" stroke-width="0.3">Day</text>
<text transform="translate(261.00 162.70)" font-size="17" text-anchor="start" font-weight="bold" stroke="#111" stroke-width="0.3">E</text>
<line x1="373.20" y1="241.20" x2="373.20" y2="237.00" stroke-width="1.3"/>
<line x1="370.50" y1="237.00" x2="375.90" y2="237.00" stroke-width="1.6"/>
<line x1="417.60" y1="229.20" x2="417.60" y2="225.50" stroke-width="1.3"/>
<line x1="414.90" y1="225.50" x2="420.30" y2="225.50" stroke-width="1.6"/>
<line x1="447.20" y1="221.50" x2="447.20" y2="217.50" stroke-width="1.3"/>
<line x1="444.50" y1="217.50" x2="449.90" y2="217.50" stroke-width="1.6"/>
<path d="M314.00 248.00 L328.80 248.00 L343.60 247.80 L358.40 246.50 L373.20 241.20 L388.00 236.90 L402.80 232.90 L417.60 229.20 L432.40 224.00 L447.20 221.50 L462.00 217.00 L476.80 217.00 L491.60 217.00 L506.40 218.50" fill="none" stroke-width="1.6" stroke-linejoin="round"/>
<rect x="312.00" y="246.00" width="4.00" height="4.00"/>
<rect x="326.80" y="246.00" width="4.00" height="4.00"/>
<rect x="341.60" y="245.80" width="4.00" height="4.00"/>
<rect x="356.40" y="244.50" width="4.00" height="4.00"/>
<rect x="371.20" y="239.20" width="4.00" height="4.00"/>
<rect x="386.00" y="234.90" width="4.00" height="4.00"/>
<rect x="400.80" y="230.90" width="4.00" height="4.00"/>
<rect x="415.60" y="227.20" width="4.00" height="4.00"/>
<rect x="430.40" y="222.00" width="4.00" height="4.00"/>
<rect x="445.20" y="219.50" width="4.00" height="4.00"/>
<rect x="460.00" y="215.00" width="4.00" height="4.00"/>
<rect x="474.80" y="215.00" width="4.00" height="4.00"/>
<rect x="489.60" y="215.00" width="4.00" height="4.00"/>
<rect x="504.40" y="216.50" width="4.00" height="4.00"/>
</g>
<g>
<line x1="304.60" y1="307.50" x2="304.60" y2="395.90" stroke-width="1.45"/>
<line x1="304.00" y1="395.40" x2="519.50" y2="394.70" stroke-width="1.45"/>
<line x1="302.80" y1="325.50" x2="304.60" y2="325.50" stroke-width="1.0"/>
<line x1="302.80" y1="361.30" x2="304.60" y2="361.30" stroke-width="1.0"/>
<line x1="302.80" y1="395.80" x2="304.60" y2="395.80" stroke-width="1.0"/>
<line x1="303.20" y1="343.50" x2="304.60" y2="343.50" stroke-width="0.9"/>
<line x1="303.20" y1="378.50" x2="304.60" y2="378.50" stroke-width="0.9"/>
<line x1="303.20" y1="309.00" x2="304.60" y2="309.00" stroke-width="0.9"/>
<line x1="312.50" y1="395.37" x2="312.50" y2="396.87" stroke-width="0.9"/>
<line x1="327.65" y1="395.32" x2="327.65" y2="396.82" stroke-width="0.9"/>
<line x1="342.80" y1="395.28" x2="342.80" y2="396.78" stroke-width="0.9"/>
<line x1="357.95" y1="395.23" x2="357.95" y2="396.73" stroke-width="0.9"/>
<line x1="373.10" y1="395.18" x2="373.10" y2="396.68" stroke-width="0.9"/>
<line x1="388.25" y1="395.13" x2="388.25" y2="396.63" stroke-width="0.9"/>
<line x1="403.40" y1="395.08" x2="403.40" y2="396.58" stroke-width="0.9"/>
<line x1="418.55" y1="395.03" x2="418.55" y2="396.53" stroke-width="0.9"/>
<line x1="433.70" y1="394.98" x2="433.70" y2="396.48" stroke-width="0.9"/>
<line x1="448.85" y1="394.93" x2="448.85" y2="396.43" stroke-width="0.9"/>
<line x1="464.00" y1="394.88" x2="464.00" y2="396.38" stroke-width="0.9"/>
<line x1="479.15" y1="394.83" x2="479.15" y2="396.33" stroke-width="0.9"/>
<line x1="494.30" y1="394.78" x2="494.30" y2="396.28" stroke-width="0.9"/>
<line x1="509.45" y1="394.73" x2="509.45" y2="396.23" stroke-width="0.9"/>
<text transform="translate(299.80 329.43)" font-size="11.1" text-anchor="end" font-weight="bold" stroke="#111" stroke-width="0.3">8</text>
<text transform="translate(299.80 365.23)" font-size="11.1" text-anchor="end" font-weight="bold" stroke="#111" stroke-width="0.3">4</text>
<text transform="translate(299.80 399.73)" font-size="11.1" text-anchor="end" font-weight="bold" stroke="#111" stroke-width="0.3">0</text>
<text transform="translate(313.10 408.31)" font-size="10.2" text-anchor="middle" font-weight="bold" stroke="#111" stroke-width="0.3">0</text>
<text transform="translate(328.28 408.24)" font-size="10.2" text-anchor="middle" font-weight="bold" stroke="#111" stroke-width="0.3">1</text>
<text transform="translate(343.46 408.17)" font-size="10.2" text-anchor="middle" font-weight="bold" stroke="#111" stroke-width="0.3">2</text>
<text transform="translate(358.64 408.10)" font-size="10.2" text-anchor="middle" font-weight="bold" stroke="#111" stroke-width="0.3">3</text>
<text transform="translate(373.82 408.03)" font-size="10.2" text-anchor="middle" font-weight="bold" stroke="#111" stroke-width="0.3">4</text>
<text transform="translate(389.00 407.96)" font-size="10.2" text-anchor="middle" font-weight="bold" stroke="#111" stroke-width="0.3">5</text>
<text transform="translate(404.18 407.90)" font-size="10.2" text-anchor="middle" font-weight="bold" stroke="#111" stroke-width="0.3">6</text>
<text transform="translate(419.36 407.83)" font-size="10.2" text-anchor="middle" font-weight="bold" stroke="#111" stroke-width="0.3">7</text>
<text transform="translate(434.54 407.76)" font-size="10.2" text-anchor="middle" font-weight="bold" stroke="#111" stroke-width="0.3">8</text>
<text transform="translate(449.72 407.69)" font-size="10.2" text-anchor="middle" font-weight="bold" stroke="#111" stroke-width="0.3">9</text>
<text transform="translate(464.90 407.62)" font-size="10.2" text-anchor="middle" font-weight="bold" stroke="#111" stroke-width="0.3">10</text>
<text transform="translate(480.08 407.55)" font-size="10.2" text-anchor="middle" font-weight="bold" stroke="#111" stroke-width="0.3">11</text>
<text transform="translate(495.26 407.48)" font-size="10.2" text-anchor="middle" font-weight="bold" stroke="#111" stroke-width="0.3">12</text>
<text transform="translate(510.44 407.41)" font-size="10.2" text-anchor="middle" font-weight="bold" stroke="#111" stroke-width="0.3">13</text>
<text transform="translate(420.00 418.50)" font-size="10.4" text-anchor="middle" font-weight="bold" stroke="#111" stroke-width="0.3">Day</text>
<text transform="translate(261.00 304.60)" font-size="17" text-anchor="start" font-weight="bold" stroke="#111" stroke-width="0.3">F</text>
<line x1="359.18" y1="346.80" x2="359.18" y2="326.60" stroke-width="1.3"/>
<line x1="356.48" y1="326.60" x2="361.88" y2="326.60" stroke-width="1.6"/>
<line x1="374.24" y1="366.50" x2="374.24" y2="358.00" stroke-width="1.3"/>
<line x1="371.54" y1="358.00" x2="376.94" y2="358.00" stroke-width="1.6"/>
<line x1="389.30" y1="374.00" x2="389.30" y2="364.80" stroke-width="1.3"/>
<line x1="386.60" y1="364.80" x2="392.00" y2="364.80" stroke-width="1.6"/>
<line x1="404.36" y1="377.80" x2="404.36" y2="371.00" stroke-width="1.3"/>
<line x1="401.66" y1="371.00" x2="407.06" y2="371.00" stroke-width="1.6"/>
<line x1="419.42" y1="377.80" x2="419.42" y2="367.50" stroke-width="1.3"/>
<line x1="416.72" y1="367.50" x2="422.12" y2="367.50" stroke-width="1.6"/>
<line x1="434.48" y1="382.30" x2="434.48" y2="377.70" stroke-width="1.3"/>
<line x1="431.78" y1="377.70" x2="437.18" y2="377.70" stroke-width="1.6"/>
<line x1="449.54" y1="380.80" x2="449.54" y2="374.00" stroke-width="1.3"/>
<line x1="446.84" y1="374.00" x2="452.24" y2="374.00" stroke-width="1.6"/>
<line x1="464.60" y1="382.30" x2="464.60" y2="380.00" stroke-width="1.3"/>
<line x1="461.90" y1="380.00" x2="467.30" y2="380.00" stroke-width="1.6"/>
<line x1="479.66" y1="381.30" x2="479.66" y2="379.40" stroke-width="1.3"/>
<line x1="476.96" y1="379.40" x2="482.36" y2="379.40" stroke-width="1.6"/>
<line x1="494.72" y1="381.30" x2="494.72" y2="378.60" stroke-width="1.3"/>
<line x1="492.02" y1="378.60" x2="497.42" y2="378.60" stroke-width="1.6"/>
<line x1="509.78" y1="381.30" x2="509.78" y2="379.40" stroke-width="1.3"/>
<line x1="507.08" y1="379.40" x2="512.48" y2="379.40" stroke-width="1.6"/>
<path d="M359.18 346.80 L374.24 366.50 L389.30 374.00 L404.36 377.80 L419.42 377.80 L434.48 382.30 L449.54 380.80 L464.60 382.30 L479.66 381.30 L494.72 381.30 L509.78 381.30" fill="none" stroke-width="1.6" stroke-linejoin="round"/>
<circle cx="359.18" cy="346.80" r="1.90"/>
<circle cx="374.24" cy="366.50" r="1.90"/>
<circle cx="389.30" cy="374.00" r="1.90"/>
<circle cx="404.36" cy="377.80" r="1.90"/>
<circle cx="419.42" cy="377.80" r="1.90"/>
<circle cx="434.48" cy="382.30" r="1.90"/>
<circle cx="449.54" cy="380.80" r="1.90"/>
<circle cx="464.60" cy="382.30" r="1.90"/>
<circle cx="479.66" cy="381.30" r="1.90"/>
<circle cx="494.72" cy="381.30" r="1.90"/>
<circle cx="509.78" cy="381.30" r="1.90"/>
</g>
<text transform="translate(9.40 60.80) rotate(-90)" font-size="10.8" text-anchor="middle" font-weight="bold" stroke="#111" stroke-width="0.3">HbF (pg/cell)</text>
<text transform="translate(9.40 210.35) rotate(-90)" font-size="10.8" text-anchor="middle" font-weight="bold" stroke="#111" stroke-width="0.3">HbA (pg/cell)</text>
<text transform="translate(9.40 356.60) rotate(-90)" font-size="10.8" text-anchor="middle" font-weight="bold" stroke="#111" stroke-width="0.3">HbF / HbA (%)</text>
<text transform="translate(269.20 60.40) rotate(-90)" font-size="11.2" text-anchor="middle" font-weight="bold" stroke="#111" stroke-width="0.3">&#947;-Globin</text>
<text transform="translate(279.80 65.75) rotate(-90)" font-size="10.9" font-weight="bold" text-anchor="middle" stroke="#111" stroke-width="0.3">molecules X 10<tspan dy="-4.6" font-size="10.9">6</tspan></text>
<text transform="translate(270.10 207.50) rotate(-90)" font-size="10.4" text-anchor="middle" font-weight="bold" stroke="#111" stroke-width="0.3">&#946;-Globin</text>
<text transform="translate(281.60 211.50) rotate(-90)" font-size="10.7" font-weight="bold" text-anchor="middle" stroke="#111" stroke-width="0.3">molecules X 10<tspan dy="-4.6" font-size="10.7">8</tspan></text>
<text transform="translate(270.60 366.40) rotate(-90)" font-size="10.4" text-anchor="middle" font-weight="bold" stroke="#111" stroke-width="0.3">&#947;-Globin</text>
<text transform="translate(283.30 365.10) rotate(-90)" font-size="10.4" text-anchor="middle" font-weight="bold" stroke="#111" stroke-width="0.3">&#946;-Globin</text>
<text transform="translate(275.30 334.10) rotate(-90)" font-size="10.7" text-anchor="middle" font-weight="bold" stroke="#111" stroke-width="0.3">(%)</text>
<line x1="274.30" y1="345.80" x2="274.30" y2="387.70" stroke-width="1.0"/>
<text transform="translate(105.00 59.95) rotate(-90)" font-size="10.9" text-anchor="middle" font-weight="bold" stroke="#111" stroke-width="0.3">0.023</text>
<text transform="translate(148.60 42.55) rotate(-90)" font-size="10.9" text-anchor="middle" font-weight="bold" stroke="#111" stroke-width="0.3">p=0.012</text>
<text transform="translate(104.90 203.05) rotate(-90)" font-size="10.9" text-anchor="middle" font-weight="bold" stroke="#111" stroke-width="0.3">0.27</text>
<text transform="translate(120.50 209.00) rotate(-90)" font-size="10.9" text-anchor="middle" font-weight="bold" stroke="#111" stroke-width="0.3">p=0.034</text>
<text transform="translate(362.70 30.50) rotate(-90)" font-size="10.9" font-weight="bold" text-anchor="middle" stroke="#111" stroke-width="0.3">3.0X10<tspan dy="-4.6" font-size="10.9">6</tspan></text>
<text transform="translate(405.90 21.30) rotate(-90)" font-size="10.9" text-anchor="middle" font-weight="bold" stroke="#111" stroke-width="0.3">p=0.029</text>
<text transform="translate(362.80 198.20) rotate(-90)" font-size="10.9" font-weight="bold" text-anchor="middle" stroke="#111" stroke-width="0.3">4.4X10<tspan dy="-5.2" font-size="10.9">7</tspan></text>
<text transform="translate(391.70 201.50) rotate(-90)" font-size="10.9" text-anchor="middle" font-weight="bold" stroke="#111" stroke-width="0.3">p=0.007</text>
<line x1="101.05" y1="76.20" x2="101.05" y2="91.80" stroke-width="1.75"/>
<path d="M100.15 90.80L99.00 92.40L100.60 99.40L101.50 99.40L103.10 92.40L101.95 90.80Z" stroke="none"/>
<line x1="101.50" y1="216.30" x2="101.50" y2="232.40" stroke-width="1.75"/>
<path d="M100.60 231.40L99.45 233.00L101.05 240.00L101.95 240.00L103.55 233.00L102.40 231.40Z" stroke="none"/>
<line x1="359.10" y1="53.00" x2="359.10" y2="68.40" stroke-width="1.75"/>
<path d="M358.20 67.40L357.05 69.00L358.65 76.00L359.55 76.00L361.15 69.00L360.00 67.40Z" stroke="none"/>
<line x1="358.60" y1="219.30" x2="358.60" y2="235.30" stroke-width="1.75"/>
<path d="M357.70 234.30L356.55 235.90L358.15 242.90L359.05 242.90L360.65 235.90L359.50 234.30Z" stroke="none"/>
<path d="M145.20 68.60L145.20 65.50M145.20 68.60L148.15 67.64M145.20 68.60L147.02 71.11M145.20 68.60L143.38 71.11M145.20 68.60L142.25 67.64" fill="none" stroke-width="2.1" stroke-linecap="round"/>
<path d="M116.40 235.50L116.40 232.40M116.40 235.50L119.35 234.54M116.40 235.50L118.22 238.01M116.40 235.50L114.58 238.01M116.40 235.50L113.45 234.54" fill="none" stroke-width="2.1" stroke-linecap="round"/>
<path d="M403.80 46.60L403.80 43.50M403.80 46.60L406.75 45.64M403.80 46.60L405.62 49.11M403.80 46.60L401.98 49.11M403.80 46.60L400.85 45.64" fill="none" stroke-width="2.1" stroke-linecap="round"/>
<path d="M387.50 227.00L387.50 223.90M387.50 227.00L390.45 226.04M387.50 227.00L389.32 229.51M387.50 227.00L385.68 229.51M387.50 227.00L384.55 226.04" fill="none" stroke-width="2.1" stroke-linecap="round"/>
</svg>
</body></html>
